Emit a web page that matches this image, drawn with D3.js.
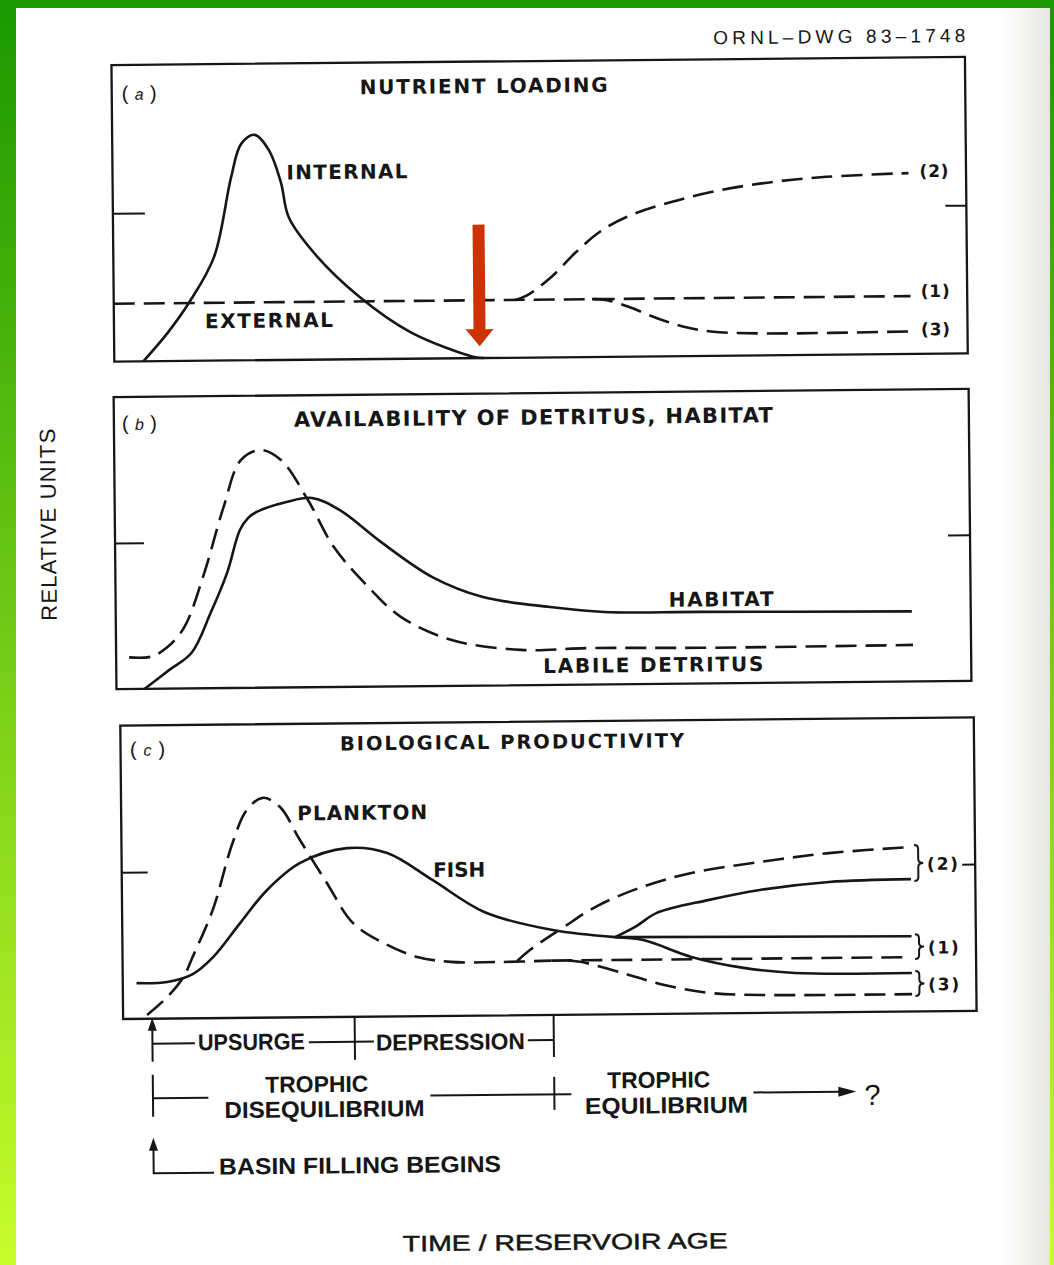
<!DOCTYPE html>
<html><head><meta charset="utf-8">
<script src="https://cdn.jsdelivr.net/npm/d3@7"></script>
<style>body{margin:0;background:#fff}svg{display:block}</style>
</head><body>
<svg id="c" width="1054" height="1265"></svg>
<script>
// ---------------- DATA (time 0-100, relative units 0-10) ----------------
// (a) Nutrient loading
const internalLoading = [[3.4,0],[6.3,0.96],[8.9,2.0],[11.8,3.5],[13.9,6.2],[15.1,7.3],[16.7,7.6],[18.3,7.1],[19.7,6.0],[20.6,4.8],[23.8,3.5],[28.8,2.1],[34.7,0.9],[42.0,0.05],[43.3,0]];
const externalLoading1 = [[0,1.95],[93.3,1.95]];
const externalLoading2 = [[47.0,1.95],[48.4,2.1],[51.3,2.72],[54.1,3.52],[57.0,4.22],[60.2,4.72],[65.5,5.21],[71.4,5.6],[77.5,5.85],[83.6,6.0],[93.2,6.1]];
const externalLoading3 = [[56.0,1.95],[57.6,1.92],[60.2,1.69],[63.4,1.31],[66.6,1.0],[69.9,0.82],[75.6,0.74],[93.2,0.76]];
const loadingArrow = {t:42.8, from:4.5, to:0.4};
// (b) Detritus, habitat
const habitat = [[3.2,0],[6.1,0.64],[8.7,1.21],[11.0,2.58],[13.0,3.97],[14.5,5.4],[15.5,5.82],[16.5,6.02],[20.0,6.35],[23.0,6.48],[26.2,6.06],[31.2,4.91],[37.0,3.73],[42.9,3.03],[50.7,2.67],[57.1,2.48],[68.3,2.45],[93.1,2.4]];
const labileDetritus = [[1.4,1.08],[4.0,1.1],[5.9,1.42],[7.9,2.1],[10.3,3.95],[12.6,6.17],[14.7,7.8],[17.0,8.14],[19.4,7.79],[22.5,6.42],[25.5,4.79],[29.5,3.41],[33.3,2.37],[39.2,1.57],[47.3,1.21],[55.6,1.25],[68.5,1.22],[93.2,1.25]];
// (c) Biological productivity
const fish = [[1.9,1.22],[5.5,1.25],[8.5,1.51],[10.9,2.08],[14.1,3.23],[17.3,4.35],[21.2,5.26],[26.7,5.75],[31.4,5.57],[36.7,4.63],[42.7,3.53],[50.7,2.89],[58.0,2.63]];
const fish1 = [[58.0,2.63],[92.7,2.56]];
const fish2 = [[58.0,2.63],[60.5,3.0],[62.9,3.44],[68.9,3.86],[75.0,4.19],[83.1,4.44],[92.7,4.51]];
const fish3 = [[58.0,2.63],[61.3,2.52],[66.9,1.93],[73.0,1.54],[79.0,1.35],[92.7,1.31]];
const plankton = [[3.1,0.13],[5.5,0.74],[7.4,1.41],[8.5,2.09],[10.9,3.68],[13.3,5.96],[15.0,7.08],[16.9,7.49],[18.9,7.17],[21.2,6.04],[24.3,4.57],[27.3,3.2],[30.9,2.5],[34.8,2.02],[38.7,1.84],[44.6,1.82],[50.5,1.85]];
const plankton1 = [[50.5,1.85],[92.6,1.85]];
const plankton2 = [[46.5,1.85],[48.0,2.22],[52.0,2.99],[55.7,3.66],[60.8,4.29],[67.0,4.79],[75.0,5.14],[83.1,5.42],[92.7,5.6]];
const plankton3 = [[52.5,1.85],[54.1,1.79],[58.9,1.4],[63.7,0.98],[68.9,0.7],[75.0,0.61],[92.7,0.59]];
const scenarioLabels = ["(1)","(2)","(3)"];
const scenarioBraces = [{label:"(2)",hi:5.6,lo:4.51},{label:"(1)",hi:2.56,lo:1.85},{label:"(3)",hi:1.31,lo:0.59}];
// time axis phases
const phaseBounds = [3.7, 27.4, 50.7];
const phaseLabels = ["UPSURGE","DEPRESSION"];
const trophicLabels = [["TROPHIC","DISEQUILIBRIUM"],["TROPHIC","EQUILIBRIUM"]];
const midTick = [5];

// ---------------- LAYOUT ----------------
const INK = "#161616";
const PANEL_FONT = '"DejaVu Sans", Verdana, sans-serif';
const NOTE_FONT = '"Liberation Sans", Arial, sans-serif';
const svg = d3.select('#c');
const defs = svg.append('defs');
const bg = defs.append('linearGradient').attr('id','bg').attr('x1',0).attr('y1',0).attr('x2',0).attr('y2',1);
bg.append('stop').attr('offset','0').attr('stop-color','#1a9800');
bg.append('stop').attr('offset','1').attr('stop-color','#c8fd2c');
svg.append('rect').attr('width',1054).attr('height',1265).attr('fill','url(#bg)');
const pg = defs.append('linearGradient').attr('id','pg').attr('x1',0).attr('x2',1).attr('y1',0).attr('y2',0);
pg.append('stop').attr('offset','0.955').attr('stop-color','#ffffff');
pg.append('stop').attr('offset','1').attr('stop-color','#e6e6e0');
svg.append('rect').attr('x',16).attr('y',8).attr('width',1034).attr('height',1257).attr('fill','url(#pg)');

const G = svg.append('g').attr('transform','rotate(-0.55,540,640)');
const X = d3.scaleLinear().domain([0,100]).range([117,971]);

const panels = {
  a:{top:61, bottom:357.5, left:117, right:970.5, lt:32, rt:21},
  b:{top:393, bottom:685, left:116, right:971, lt:29, rt:22},
  c:{top:721.5, bottom:1015, left:119.5, right:973, lt:26, rt:13}
};
Object.values(panels).forEach(p=>{ p.Y = d3.scaleLinear().domain([0,10]).range([p.bottom,p.top]); });

function txt(str,x,y,o={}){
  const t = G.append('text').attr('x',x).attr('y',y)
    .attr('font-family',o.family||PANEL_FONT)
    .attr('font-size',o.size||20).attr('font-weight',o.weight||'bold')
    .attr('fill',INK).attr('text-anchor',o.anchor||'start');
  if(o.len){ t.attr('textLength',o.len).attr('lengthAdjust',o.adj||'spacing'); }
  if(o.stroke){ t.attr('stroke',INK).attr('stroke-width',o.stroke); }
  t.text(str);
  return t;
}

function drawPanel(p){
  G.append('rect').attr('x',p.left).attr('y',p.top).attr('width',p.right-p.left).attr('height',p.bottom-p.top)
    .attr('fill','none').attr('stroke',INK).attr('stroke-width',2.3);
  const l = G.append('g').attr('transform',`translate(${p.left},0)`)
    .call(d3.axisRight(p.Y).tickValues(midTick).tickSize(p.lt).tickFormat(''));
  const r = G.append('g').attr('transform',`translate(${p.right},0)`)
    .call(d3.axisLeft(p.Y).tickValues(midTick).tickSize(p.rt).tickFormat(''));
  [l,r].forEach(g=>{ g.select('.domain').remove(); g.selectAll('line').attr('stroke',INK).attr('stroke-width',2); });
}
function curve(p,data,dashed){
  const line = d3.line().x(d=>X(d[0])).y(d=>p.Y(d[1])).curve(d3.curveCatmullRom.alpha(0.5));
  G.append('path').datum(data).attr('d',line).attr('fill','none').attr('stroke',INK)
    .attr('stroke-width',2.6).attr('stroke-linecap','butt')
    .attr('stroke-dasharray',dashed?'21,9':null);
}
function panelLabel(letter,x,y){
  const t = G.append('text').attr('x',x).attr('y',y).attr('font-family',NOTE_FONT)
    .attr('font-size',20).attr('fill',INK).attr('textLength',35).attr('lengthAdjust','spacing');
  t.append('tspan').text('(');
  t.append('tspan').attr('font-style','italic').attr('font-size',16).text(letter);
  t.append('tspan').text(')');
}

// header
txt('ORNL–DWG 83–1748',971,46,{family:NOTE_FONT,size:19,weight:'normal',anchor:'end',len:252});

// ---- (a)
const A = panels.a;
drawPanel(A);
curve(A,internalLoading,false);
curve(A,externalLoading1,true);
curve(A,externalLoading2,true);
curve(A,externalLoading3,true);
panelLabel('a',127,96);
txt('NUTRIENT LOADING',365,92.5,{size:20,len:248});
txt('INTERNAL',291,177,{size:20,len:121});
txt('EXTERNAL',208,325,{size:20,len:128});
[[scenarioLabels[1],6.1,-2],[scenarioLabels[0],1.95,-5],[scenarioLabels[2],0.76,-2]].forEach(([s,v,dy])=>{
  txt(s,X(94.5),A.Y(v)+dy+6,{size:17,len:29});
});
// red arrow
{
  const x = X(loadingArrow.t), y0 = A.Y(loadingArrow.from), y1 = A.Y(loadingArrow.to), hh = 17;
  G.append('path').attr('d',`M${x-6},${y0}H${x+6}V${y1-hh}H${x+14}L${x},${y1}L${x-14},${y1-hh}H${x-6}Z`)
    .attr('fill','#cd3300');
}

// ---- (b)
const B = panels.b;
drawPanel(B);
curve(B,habitat,false);
curve(B,labileDetritus,true);
panelLabel('b',124,426);
txt('AVAILABILITY OF DETRITUS, HABITAT',296,424.5,{size:21,len:479});
txt('HABITAT',669,608,{size:20,len:105});
txt('LABILE DETRITUS',543,673,{size:20,len:220});

// ---- (c)
const C = panels.c;
drawPanel(C);
curve(C,fish,false); curve(C,fish1,false); curve(C,fish2,false); curve(C,fish3,false);
curve(C,plankton,true); curve(C,plankton1,true); curve(C,plankton2,true); curve(C,plankton3,true);
panelLabel('c',129,752);
txt('BIOLOGICAL PRODUCTIVITY',339,748.5,{size:19.5,len:344});
txt('PLANKTON',295.5,818,{size:20,len:130});
txt('FISH',431,876,{size:20,len:52});
scenarioBraces.forEach(b=>{
  const x0 = X(93.1), y1 = C.Y(b.hi)-2, y2 = C.Y(b.lo)+2, ym=(y1+y2)/2;
  G.append('path').attr('d',`M${x0},${y1}Q${x0+4},${y1} ${x0+4},${y1+4}L${x0+4},${ym-4}Q${x0+4},${ym} ${x0+9},${ym}Q${x0+4},${ym} ${x0+4},${ym+4}L${x0+4},${y2-4}Q${x0+4},${y2} ${x0},${y2}`)
    .attr('fill','none').attr('stroke',INK).attr('stroke-width',2);
  txt(b.label,X(94.6),ym+7,{size:17,len:31});
});

// ---- time axis annotations
const xs = phaseBounds.map(X);
const ink = (d)=>G.append('path').attr('d',d).attr('fill','none').attr('stroke',INK).attr('stroke-width',2);
const note = (s,x,y,len)=>txt(s,x,y,{family:NOTE_FONT,size:23,len:len,adj:'spacingAndGlyphs'});
// basin filling arrow 1
ink(`M${xs[0]},1024V1058`);
G.append('path').attr('d',`M${xs[0]},1014L${xs[0]+4.5},1027L${xs[0]-4.5},1027Z`).attr('fill',INK);
// upsurge / depression row
const row1 = 1040;
ink(`M${xs[0]},${row1}H191`); ink(`M305,${row1}H${xs[1]}`);
ink(`M${xs[1]},1015V1058`);
ink(`M${xs[1]},${row1}H370`); ink(`M524,${row1}H${xs[2]}`);
ink(`M${xs[2]},1015V1057`);
note(phaseLabels[0],194,1047,107);
note(phaseLabels[1],372,1049,149);
// trophic row
const row2 = 1094.5;
ink(`M${xs[0]},1071V1113`);
ink(`M${xs[0]},${row2}H204`); ink(`M426,${row2}H567`);
ink(`M${xs[2]},1077V1110`);
note(trophicLabels[0][0],261,1090,103);
note(trophicLabels[0][1],220,1115,200);
note(trophicLabels[1][0],603,1089,103);
note(trophicLabels[1][1],580.5,1114.5,163);
ink(`M749,${row2}H836`);
G.append('path').attr('d',`M852,${row2}L834,${row2-5}L834,${row2+5}Z`).attr('fill',INK);
txt('?',860,1108,{family:NOTE_FONT,size:29,weight:'normal'});
// basin filling arrow 2
ink(`M${xs[0]},1144V1169.5H209`);
G.append('path').attr('d',`M${xs[0]},1134L${xs[0]+4.5},1147L${xs[0]-4.5},1147Z`).attr('fill',INK);
note('BASIN FILLING BEGINS',214,1171.5,282);
// axis titles
txt('TIME / RESERVOIR AGE',397,1250,{family:NOTE_FONT,size:22,weight:'normal',len:325,adj:'spacingAndGlyphs',stroke:0.5});
G.append('text').attr('transform','translate(57,520) rotate(-90)').attr('text-anchor','middle')
  .attr('font-family',NOTE_FONT).attr('font-size',22).attr('fill',INK)
  .attr('textLength',192).attr('lengthAdjust','spacing').text('RELATIVE UNITS');
</script>
</body></html>
